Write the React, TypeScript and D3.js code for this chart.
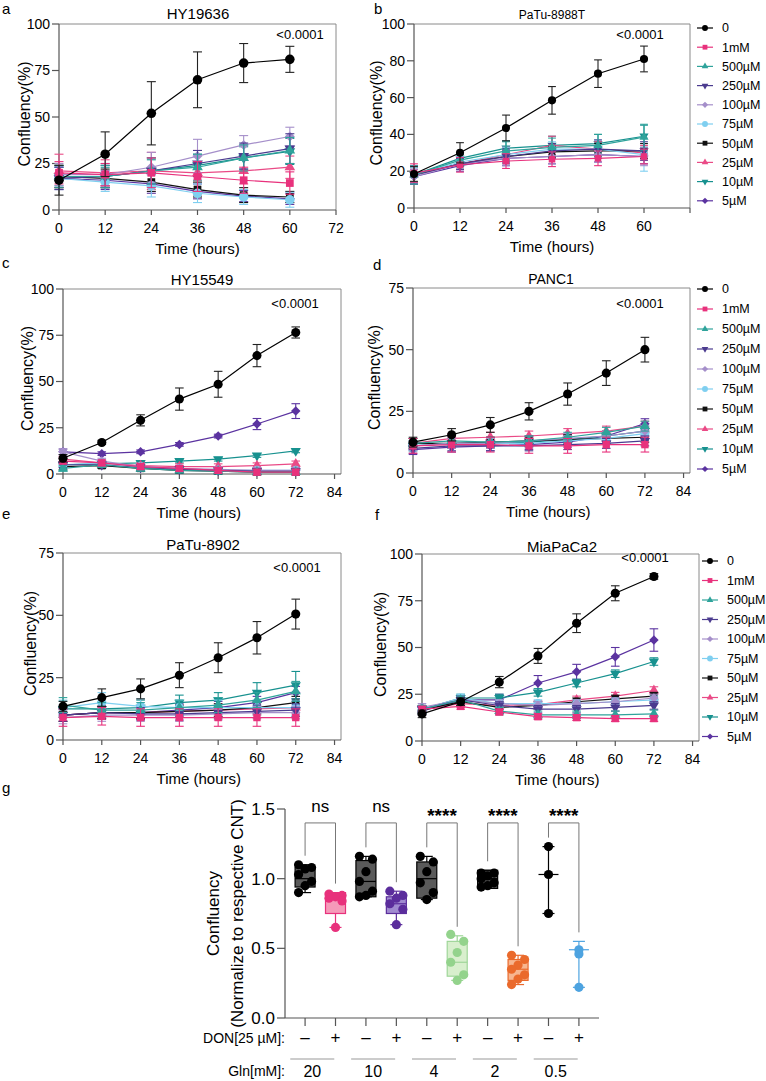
import React from 'react';
import * as d3 from 'd3';

const FONT = '"Liberation Sans", Arial, Helvetica, sans-serif';

// ---------- series definitions ----------
const SERIES_NAMES = ['0', '1mM', '500µM', '250µM', '100µM', '75µM', '50µM', '25µM', '10µM', '5µM'];
const SERIES_COLORS = ['#000000', '#e8317c', '#2fa39b', '#4b3b8f', '#a58fca', '#7fcff0', '#111111', '#ea4a86', '#17918f', '#5b33a0'];
const SERIES_SHAPES = ['circle', 'square', 'tri', 'triDown', 'diamond', 'circle', 'square', 'tri', 'triDown', 'diamond'];

const TIMES_60 = [0, 12, 24, 36, 48, 60];
const TIMES_72 = [0, 12, 24, 36, 48, 60, 72];
const X_TICKS_72 = [0, 12, 24, 36, 48, 60, 72];
const X_TICKS_84 = [0, 12, 24, 36, 48, 60, 72, 84];
const Y_TICKS_100_25 = [0, 25, 50, 75, 100];
const Y_TICKS_100_20 = [0, 20, 40, 60, 80, 100];
const Y_TICKS_75 = [0, 25, 50, 75];

// ---------- panel a: HY19636 ----------
const A_MEANS = [
  [16, 30, 52, 70, 79, 81],
  [20, 19, 20, 18, 16, 14.5],
  [18, 18, 21, 23, 28, 32],
  [17, 18, 21, 25, 29, 33],
  [19, 19, 23, 29, 35, 39.5],
  [17, 15, 13, 9, 7, 5.5],
  [18, 17, 15, 11, 8, 7],
  [21, 20, 21, 20, 21, 23],
  [18, 18, 21, 24, 28, 31.5],
  [17, 16, 14, 10, 7.5, 6],
];
const A_ERRS = [
  [8, 12, 17, 15, 10.5, 7],
  [6, 6, 8, 8, 7, 6],
  [6, 6, 7, 7, 7, 7],
  [6, 6, 7, 7, 7, 8],
  [6, 6, 8, 9, 5, 5],
  [6, 5, 6, 5, 4, 4],
  [6, 5, 5, 4, 4, 3],
  [9, 7, 10, 12, 7, 6],
  [5, 5, 6, 6, 6, 7],
  [6, 5, 5, 4, 3, 3],
];

// ---------- panel b: PaTu-8988T ----------
const B_MEANS = [
  [18.5, 30, 43.5, 58.5, 73, 81],
  [19, 23.5, 25.5, 26.5, 27, 28],
  [18, 26, 31, 33, 34, 38.5],
  [18, 24, 28, 31, 32, 31],
  [17, 24, 27, 28, 29, 28],
  [18, 25, 29, 32, 32, 29],
  [18, 24, 28, 30.5, 31, 31],
  [18, 24, 29, 34, 32, 30],
  [18, 27, 32.5, 34, 35, 39],
  [17, 23, 27, 28, 29, 28],
];
const B_ERRS = [
  [4, 5.5, 7, 7.5, 7.5, 7],
  [5, 4, 4, 4, 4, 4],
  [5, 3, 5, 5, 6, 7],
  [5, 3, 4, 4, 5, 5],
  [4, 3, 4, 4, 4, 5],
  [4, 3, 4, 4, 5, 9],
  [4, 3, 3, 3, 4, 4],
  [4, 3, 4, 5, 4, 4],
  [4, 3, 4, 5, 5, 6],
  [4, 3, 4, 4, 4, 4],
];

// ---------- panel c: HY15549 ----------
const C_MEANS = [
  [8.5, 17, 29, 40.5, 48.5, 64, 76.5],
  [7, 6, 4, 3, 2, 1, 1],
  [3, 5, 3, 2, 1.5, 1, 1],
  [5, 5, 3.5, 2.5, 2, 1.5, 1.5],
  [12, 7, 4, 3, 2.5, 2, 2],
  [5, 6, 4, 3, 2, 2, 2],
  [4, 4.5, 3, 2, 1.5, 1, 1],
  [8, 6, 4.5, 4, 4, 4.5, 5.5],
  [5, 5.5, 6, 7, 8, 10, 12.5],
  [12, 11, 12, 16, 20.5, 27, 34],
];
const C_ERRS = [
  [2, 1, 3, 6, 7, 6, 3],
  [1.5, 1.5, 1.5, 1.5, 1.5, 1.5, 1.5],
  [1.5, 1.5, 1.5, 1.5, 1.5, 1.5, 1.5],
  [1.5, 1.5, 1.5, 1.5, 1.5, 1.5, 1.5],
  [1.5, 1.5, 1.5, 1.5, 1.5, 1.5, 1.5],
  [1.5, 1.5, 1.5, 1.5, 1.5, 1.5, 1.5],
  [1.5, 1.5, 1.5, 1.5, 1.5, 1.5, 1.5],
  [1.5, 1.5, 1.5, 1.5, 1.5, 1.5, 1.5],
  [1, 1, 1, 1, 1, 1, 1],
  [1.5, 1, 1, 1, 1, 3, 4],
];

// ---------- panel d: PANC1 ----------
const D_MEANS = [
  [12.5, 15.5, 19.5, 25, 32, 40.5, 50],
  [11, 11.5, 11.5, 11, 11, 11.5, 11.5],
  [12, 13, 12.5, 13, 14.5, 16.5, 19],
  [10, 11, 11, 11, 11.5, 12, 13],
  [11, 12, 12, 13, 14, 15, 17],
  [11, 12, 12, 12, 13, 14, 16],
  [12, 12, 12.5, 13, 13.5, 14, 14.5],
  [12, 14, 14.5, 15, 16, 17, 19],
  [11, 12, 12, 12.5, 13.5, 15, 17],
  [9.5, 10.5, 11, 11.5, 12.5, 15, 20],
];
const D_ERRS = [
  [2, 2.5, 3, 3.5, 4.5, 5, 5],
  [3, 3, 3, 3, 3, 3, 3],
  [2, 2, 2, 2, 2, 2, 2],
  [2, 2, 2, 2, 2, 2, 2],
  [2, 2, 2, 2, 2, 2, 2],
  [2, 2, 2, 2, 2, 2, 2],
  [2, 2, 2, 2, 2, 2, 2],
  [2, 2, 2, 2, 2, 2, 2],
  [2, 2, 2, 2, 2, 2, 2],
  [2, 2, 2, 2, 2, 2, 2],
];

// ---------- panel e: PaTu-8902 ----------
const E_MEANS = [
  [13.5, 17, 20.5, 26, 33, 41, 50.5],
  [9, 9.5, 9, 9, 9, 9, 9],
  [14, 12, 12, 13, 14, 16, 19.5],
  [10, 11, 10.5, 10.5, 11, 11.5, 12],
  [9, 10, 10, 10, 10.5, 11, 11],
  [13, 15, 13.5, 13, 13, 13, 13],
  [10, 11, 11, 11.5, 12, 13, 15],
  [10, 11, 11, 11.5, 12, 12.5, 13],
  [12.5, 12.5, 13, 15, 16, 19, 22],
  [10, 11, 11, 12, 13, 15, 19],
];
const E_ERRS = [
  [2, 3.5, 4, 5, 6, 6.5, 6],
  [3.5, 3.5, 3.5, 3.5, 3.5, 3.5, 3.5],
  [3, 3, 3, 3, 3, 3, 4],
  [2.5, 2.5, 2.5, 2.5, 2.5, 2.5, 2.5],
  [2.5, 2.5, 2.5, 2.5, 2.5, 2.5, 2.5],
  [3, 4, 3, 3, 3, 3, 3],
  [2.5, 2.5, 2.5, 2.5, 2.5, 2.5, 2.5],
  [2.5, 2.5, 2.5, 2.5, 2.5, 2.5, 2.5],
  [3, 3, 3, 3, 3, 4, 5.5],
  [2.5, 2.5, 2.5, 2.5, 2.5, 2.5, 2.5],
];

// ---------- panel f: MiaPaCa2 ----------
const F_MEANS = [
  [14.5, 21, 31.5, 45.5, 63, 79, 88],
  [17, 18.5, 15.5, 13, 12.5, 12, 12],
  [17, 22, 16, 14, 14, 14, 14.5],
  [17, 22, 19, 17, 17, 18, 19],
  [18, 22, 20, 19, 20, 21, 23],
  [17, 23, 20, 20, 20, 21, 22],
  [16.5, 21, 18, 19, 21, 22.5, 24],
  [17, 20, 19, 19.5, 22, 24, 27],
  [17, 23, 23, 26, 31, 36, 42.5],
  [16, 22, 22, 31, 37, 45, 54],
];
const F_ERRS = [
  [2, 2, 3, 4, 5, 4, 1.5],
  [1.5, 1.5, 1.5, 1.5, 1.5, 1.5, 1.5],
  [2, 2, 2, 2, 2, 2, 2],
  [2, 2, 2, 2, 2, 2, 2],
  [2, 2, 2, 2, 2, 2, 2],
  [2, 2, 2, 2, 2, 2, 2],
  [2, 2, 2, 2, 2, 2, 2],
  [2, 2, 2, 2, 2, 2, 2],
  [2, 2, 2, 2, 2, 2, 2],
  [2, 2, 3, 4, 4, 5, 6],
];

// ---------- panel g: box plots ----------
const G_GLN = ['20', '10', '4', '2', '0.5'];
const G_DON = ['–', '+', '–', '+', '–', '+', '–', '+', '–', '+'];
const G_SIG = ['ns', 'ns', '****', '****', '****'];
const G_POINTS = [
  [1.10, 1.08, 1.07, 1.03, 0.98, 0.95, 0.90],
  [0.89, 0.88, 0.87, 0.86, 0.84, 0.65],
  [1.16, 1.14, 1.05, 0.98, 0.91, 0.88, 0.87],
  [0.91, 0.88, 0.86, 0.82, 0.78, 0.67],
  [1.16, 1.12, 1.05, 0.97, 0.90, 0.85],
  [0.60, 0.55, 0.47, 0.40, 0.31, 0.27],
  [1.04, 1.04, 1.02, 1.0, 0.97, 0.95, 0.94],
  [0.45, 0.42, 0.38, 0.35, 0.31, 0.28, 0.24],
  [1.23, 1.03, 0.75],
  [0.49, 0.46, 0.22],
];
// [min, q1, median, q3, max]
const G_BOXES = [
  [0.90, 0.94, 1.0, 1.08, 1.10],
  [0.65, 0.75, 0.86, 0.90, 0.90],
  [0.87, 0.87, 0.98, 1.13, 1.16],
  [0.67, 0.75, 0.82, 0.87, 0.91],
  [0.85, 0.86, 1.0, 1.12, 1.16],
  [0.27, 0.30, 0.40, 0.55, 0.59],
  [0.93, 0.93, 1.0, 1.06, 1.06],
  [0.24, 0.27, 0.35, 0.42, 0.45],
  [0.75, 1.03, 1.03, 1.03, 1.23],
  [0.22, 0.49, 0.49, 0.49, 0.55],
];
const G_POINT_COLORS = ['#000000', '#e8317c', '#000000', '#5b2d9c', '#000000', '#93d38c', '#000000', '#ea6a2c', '#000000', '#4da3e0'];
const G_BOX_FILLS = ['#5a5a5a', '#f59ab9', '#5a5a5a', '#a08ad0', '#5a5a5a', '#d8efcd', '#5a5a5a', '#f7b690', 'none', 'none'];
const G_BOX_STROKES = ['#000000', '#e8317c', '#000000', '#5b2d9c', '#000000', '#9fd699', '#000000', '#ea6a2c', '#000000', '#4da3e0'];
const G_Y_TICKS = [0, 0.5, 1.0, 1.5];

// ---------- helpers ----------
function symbolPath(shape: string, scale: number): string {
  const s = scale * scale;
  switch (shape) {
    case 'circle':
      return d3.symbol(d3.symbolCircle, 72 * s)() as string;
    case 'square':
      return d3.symbol(d3.symbolSquare, 60 * s)() as string;
    case 'tri':
    case 'triDown':
      return d3.symbol(d3.symbolTriangle, 50 * s)() as string;
    case 'diamond':
      return d3.symbol(d3.symbolSquare, 50 * s)() as string;
  }
  return '';
}

function Marker({ shape, x, y, color, scale }: { shape: string; x: number; y: number; color: string; scale: number }) {
  const rot = shape === 'triDown' ? 180 : shape === 'diamond' ? 45 : 0;
  return <path d={symbolPath(shape, scale)} transform={`translate(${x},${y}) rotate(${rot})`} fill={color} />;
}

type PanelCfg = {
  letter: string; letterX: number; letterY: number;
  title: string; titleX: number; titleY: number; titleSize: number;
  left: number; right: number; top: number; bottom: number;
  xMax: number; xTicks: number[]; hideXLabels?: number[];
  yMax: number; yTicks: number[];
  times: number[]; means: number[][]; errs: number[][];
  yLabelX: number; pX: number; pY: number;
  legend?: { x: number; y: number; dy: number };
  markerScale: number;
};

const AXIS = '#555555';
const FRAME = '#8a8a8a';

function TimePanel({ cfg }: { cfg: PanelCfg }) {
  const x = d3.scaleLinear().domain([0, cfg.xMax]).range([cfg.left, cfg.right]);
  const y = d3.scaleLinear().domain([0, cfg.yMax]).range([cfg.bottom, cfg.top]);
  const line = d3.line<number>().x((_, i) => x(cfg.times[i])).y((d) => y(d));
  const order = d3.range(SERIES_NAMES.length).reverse();
  const midY = (cfg.top + cfg.bottom) / 2 - 3;
  const midX = (cfg.left + x(cfg.xTicks[cfg.xTicks.length - 1])) / 2;
  return (
    <g>
      <text x={cfg.letterX} y={cfg.letterY} fontSize={15}>{cfg.letter}</text>
      <text x={cfg.titleX} y={cfg.titleY} fontSize={cfg.titleSize} textAnchor="middle">{cfg.title}</text>
      {/* frame */}
      <line x1={cfg.left} x2={cfg.right} y1={cfg.top} y2={cfg.top} stroke={FRAME} strokeWidth={1} />
      <line x1={cfg.right} x2={cfg.right} y1={cfg.top} y2={cfg.bottom} stroke={FRAME} strokeWidth={1} />
      {/* axes */}
      <line x1={cfg.left} x2={cfg.left} y1={cfg.top} y2={cfg.bottom} stroke={AXIS} strokeWidth={1.2} />
      <line x1={cfg.left} x2={cfg.right} y1={cfg.bottom} y2={cfg.bottom} stroke={AXIS} strokeWidth={1.2} />
      {cfg.yTicks.map((t) => (
        <g key={'yt' + t}>
          <line x1={cfg.left - 7} x2={cfg.left} y1={y(t)} y2={y(t)} stroke={AXIS} strokeWidth={1.2} />
          <text x={cfg.left - 9} y={y(t)} dy="0.35em" fontSize={14} textAnchor="end">{t}</text>
        </g>
      ))}
      {cfg.xTicks.map((t) => (
        <g key={'xt' + t}>
          <line x1={x(t)} x2={x(t)} y1={cfg.bottom} y2={cfg.bottom + 5} stroke={AXIS} strokeWidth={1.2} />
          {!(cfg.hideXLabels || []).includes(t) && (
            <text x={x(t)} y={cfg.bottom + 18} dy="0.35em" fontSize={14} textAnchor="middle">{t}</text>
          )}
        </g>
      ))}
      <text x={midX} y={cfg.bottom + 39} dy="0.35em" fontSize={15} textAnchor="middle">Time (hours)</text>
      <text transform={`translate(${cfg.yLabelX},${midY}) rotate(-90)`} dy="0.35em" fontSize={16} textAnchor="middle">Confluency(%)</text>
      <text x={cfg.pX} y={cfg.pY} fontSize={13} textAnchor="middle">{'<0.0001'}</text>
      {/* series */}
      {order.map((si) => {
        const col = SERIES_COLORS[si];
        const m = cfg.means[si];
        const e = cfg.errs[si];
        const cw = 4 * cfg.markerScale + 0.5;
        return (
          <g key={'s' + si}>
            {m.map((v, i) => (
              <g key={'e' + i} stroke={si === 0 ? '#222' : col} strokeWidth={1.1}>
                <line x1={x(cfg.times[i])} x2={x(cfg.times[i])} y1={y(v - e[i])} y2={y(v + e[i])} />
                <line x1={x(cfg.times[i]) - cw} x2={x(cfg.times[i]) + cw} y1={y(v + e[i])} y2={y(v + e[i])} />
                <line x1={x(cfg.times[i]) - cw} x2={x(cfg.times[i]) + cw} y1={y(v - e[i])} y2={y(v - e[i])} />
              </g>
            ))}
            <path d={line(m) as string} fill="none" stroke={col} strokeWidth={1.2} />
            {m.map((v, i) => (
              <Marker key={'m' + i} shape={SERIES_SHAPES[si]} x={x(cfg.times[i])} y={y(v)} color={col} scale={cfg.markerScale} />
            ))}
          </g>
        );
      })}
      {cfg.legend && SERIES_NAMES.map((nm, i) => {
        const ly = cfg.legend!.y + i * cfg.legend!.dy;
        const lx = cfg.legend!.x;
        return (
          <g key={'lg' + i}>
            <line x1={lx - 8} x2={lx + 8} y1={ly} y2={ly} stroke={SERIES_COLORS[i]} strokeWidth={1.2} />
            <Marker shape={SERIES_SHAPES[i]} x={lx} y={ly} color={SERIES_COLORS[i]} scale={0.62} />
            <text x={lx + 17} y={ly} dy="0.35em" fontSize={12.5}>{nm}</text>
          </g>
        );
      })}
    </g>
  );
}

const PANELS: PanelCfg[] = [
  {
    letter: 'a', letterX: 2, letterY: 14, title: 'HY19636', titleX: 198, titleY: 19, titleSize: 15,
    left: 59, right: 336, top: 24, bottom: 210, xMax: 72, xTicks: X_TICKS_72,
    yMax: 100, yTicks: Y_TICKS_100_25, times: TIMES_60, means: A_MEANS, errs: A_ERRS,
    yLabelX: 24, pX: 300, pY: 39, markerScale: 1,
  },
  {
    letter: 'b', letterX: 374, letterY: 14, title: 'PaTu-8988T', titleX: 552, titleY: 19, titleSize: 12,
    left: 414, right: 690, top: 24, bottom: 208, xMax: 72, xTicks: X_TICKS_72, hideXLabels: [72],
    yMax: 100, yTicks: Y_TICKS_100_20, times: TIMES_60, means: B_MEANS, errs: B_ERRS,
    yLabelX: 376, pX: 640, pY: 39, legend: { x: 705, y: 28, dy: 19.2 }, markerScale: 0.85,
  },
  {
    letter: 'c', letterX: 2, letterY: 268, title: 'HY15549', titleX: 202, titleY: 285, titleSize: 15,
    left: 63, right: 341, top: 289, bottom: 474, xMax: 86, xTicks: X_TICKS_84,
    yMax: 100, yTicks: Y_TICKS_100_25, times: TIMES_72, means: C_MEANS, errs: C_ERRS,
    yLabelX: 27, pX: 295, pY: 308, markerScale: 0.95,
  },
  {
    letter: 'd', letterX: 373, letterY: 270, title: 'PANC1', titleX: 551, titleY: 284, titleSize: 14,
    left: 413, right: 690, top: 288, bottom: 473, xMax: 86, xTicks: X_TICKS_84,
    yMax: 75, yTicks: Y_TICKS_75, times: TIMES_72, means: D_MEANS, errs: D_ERRS,
    yLabelX: 374, pX: 640, pY: 308, legend: { x: 705, y: 289, dy: 20 }, markerScale: 0.95,
  },
  {
    letter: 'e', letterX: 2, letterY: 519, title: 'PaTu-8902', titleX: 203, titleY: 550, titleSize: 15,
    left: 63, right: 341, top: 553, bottom: 740, xMax: 86, xTicks: X_TICKS_84,
    yMax: 75, yTicks: Y_TICKS_75, times: TIMES_72, means: E_MEANS, errs: E_ERRS,
    yLabelX: 30, pX: 297, pY: 572, markerScale: 0.95,
  },
  {
    letter: 'f', letterX: 375, letterY: 520, title: 'MiaPaCa2', titleX: 562, titleY: 552, titleSize: 15,
    left: 422, right: 699, top: 554, bottom: 741, xMax: 86, xTicks: X_TICKS_84,
    yMax: 100, yTicks: Y_TICKS_100_25, times: TIMES_72, means: F_MEANS, errs: F_ERRS,
    yLabelX: 380, pX: 645, pY: 562, legend: { x: 710, y: 561, dy: 19.5 }, markerScale: 0.95,
  },
];

function BoxPanel() {
  const left = 285, right = 599, top = 809, bottom = 1018;
  const y = d3.scaleLinear().domain([0, 1.5]).range([bottom, top]);
  const x = d3.scalePoint<number>().domain(d3.range(G_POINTS.length)).range([left, right]).padding(0.66);
  const bracketLevel = 1.40;
  return (
    <g>
      <text x={2} y={793} fontSize={15}>g</text>
      <line x1={left} x2={left} y1={top} y2={bottom} stroke={AXIS} strokeWidth={1.2} />
      <line x1={left} x2={right} y1={bottom} y2={bottom} stroke={AXIS} strokeWidth={1.2} />
      {G_Y_TICKS.map((t) => (
        <g key={'gy' + t}>
          <line x1={left - 8} x2={left} y1={y(t)} y2={y(t)} stroke={AXIS} strokeWidth={1.2} />
          <text x={left - 10} y={y(t)} dy="0.35em" fontSize={17} textAnchor="end">{d3.format('.1f')(t)}</text>
        </g>
      ))}
      <text transform={`translate(213,${(top + bottom) / 2}) rotate(-90)`} dy="0.35em" fontSize={17} textAnchor="middle">Confluency</text>
      <text transform={`translate(237,${(top + bottom) / 2}) rotate(-90)`} dy="0.35em" fontSize={17} textAnchor="middle">(Normalize to respective CNT)</text>
      {G_POINTS.map((_, i) => (
        <g key={'gt' + i}>
          <line x1={x(i)!} x2={x(i)!} y1={bottom} y2={bottom + 8} stroke={AXIS} strokeWidth={1.2} />
          <text x={x(i)!} y={1043} fontSize={17} textAnchor="middle">{G_DON[i]}</text>
        </g>
      ))}
      <text x={left} y={1043} fontSize={14} textAnchor="end">DON[25 µM]:</text>
      <text x={left} y={1076} fontSize={14} textAnchor="end">Gln[mM]:</text>
      {G_GLN.map((g, k) => {
        const c = (x(2 * k)! + x(2 * k + 1)!) / 2 - 8;
        return (
          <g key={'gln' + k}>
            <line x1={c - 22} x2={c + 22} y1={1059} y2={1059} stroke="#999" strokeWidth={1} />
            <text x={c} y={1077} fontSize={16} textAnchor="middle">{g}</text>
          </g>
        );
      })}
      {G_SIG.map((s, k) => {
        const x1 = x(2 * k)!, x2 = x(2 * k + 1)!;
        const yl = y(bracketLevel);
        const l1 = y(G_BOXES[2 * k][4]) - 9;
        const l2 = y(G_BOXES[2 * k + 1][4]) - 9;
        const isNs = s === 'ns';
        return (
          <g key={'sig' + k}>
            <path d={`M${x1},${l1}V${yl}H${x2}V${l2}`} fill="none" stroke="#777" strokeWidth={1} />
            <text x={(x1 + x2) / 2} y={isNs ? 812 : 822} fontSize={isNs ? 17 : 19} fontWeight={isNs ? 'normal' : 'bold'} textAnchor="middle">{s}</text>
          </g>
        );
      })}
      {G_BOXES.map((b, i) => {
        const cx = x(i)!;
        const [mn, q1, md, q3, mx] = b;
        const stroke = G_BOX_STROKES[i];
        const hasBox = q3 > q1;
        return (
          <g key={'box' + i} stroke={stroke} strokeWidth={1.2}>
            <line x1={cx} x2={cx} y1={y(mn)} y2={y(q1)} />
            <line x1={cx} x2={cx} y1={y(q3)} y2={y(mx)} />
            <line x1={cx - 6} x2={cx + 6} y1={y(mn)} y2={y(mn)} />
            <line x1={cx - 6} x2={cx + 6} y1={y(mx)} y2={y(mx)} />
            {hasBox && <rect x={cx - 10} y={y(q3)} width={20} height={y(q1) - y(q3)} fill={G_BOX_FILLS[i]} />}
            <line x1={cx - 10} x2={cx + 10} y1={y(md)} y2={y(md)} />
          </g>
        );
      })}
      {G_POINTS.map((pts, i) => (
        <g key={'pts' + i}>
          {pts.map((v, j) => {
            const off = pts.length > 3 ? (((j * 2) % 3) - 1) * 6.5 : 0;
            return <circle key={j} cx={x(i)! + off} cy={y(v)} r={4.6} fill={G_POINT_COLORS[i]} />;
          })}
        </g>
      ))}
    </g>
  );
}

export default function App() {
  return (
    <svg
      width={766}
      height={1081}
      viewBox="0 0 766 1081"
      style={{ position: 'absolute', left: 0, top: 0, background: '#fff', display: 'block' }}
      fontFamily={FONT}
    >
      <rect x={0} y={0} width={766} height={1081} fill="#fff" />
      {PANELS.map((p) => (
        <TimePanel key={p.letter} cfg={p} />
      ))}
      <BoxPanel />
    </svg>
  );
}
